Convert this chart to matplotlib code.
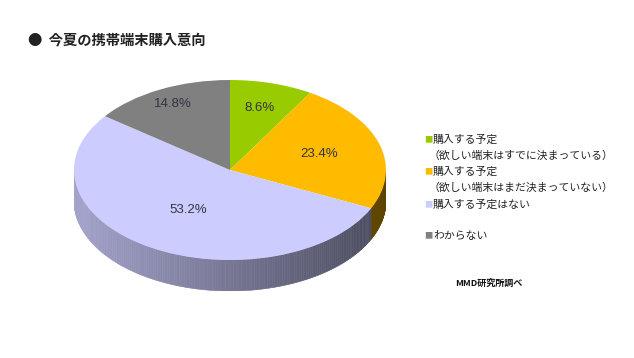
import numpy as np
import matplotlib
matplotlib.use("Agg")
import matplotlib.pyplot as plt
from matplotlib.collections import PolyCollection
from matplotlib.colors import to_rgb

# data
labels = [
    "購入する予定\n（欲しい端末はすでに決まっている）",
    "購入する予定\n（欲しい端末はまだ決まっていない）",
    "購入する予定はない",
    "わからない",
]
shares = [8.6, 23.4, 53.2, 14.8]
colors = ["#99cc00", "#ffbb00", "#ccccff", "#808080"]

title = "●  今夏の携帯端末購入意向"
source = "MMD研究所調べ"

# label distance from centre, per slice (Excel places them unevenly)
label_r = [0.72, 0.60, 0.52, 0.82]

JP = ["Noto Sans CJK JP", "DejaVu Sans"]

fig = plt.figure(figsize=(6.34, 3.58), dpi=100)
fig.patch.set_facecolor("white")

# pie geometry in pixels (top face ellipse + side depth)
W, H = 634, 358
cx, cy, rx, ry, depth = 230, 170, 156, 90, 31
depth_u = depth / ry
ax = fig.add_axes([(cx - rx) / W, (H - cy - ry - depth) / H,
                   2 * rx / W, (2 * ry + depth) / H])

wedges, texts, autotexts = ax.pie(
    shares, colors=colors, startangle=90, counterclock=False,
    autopct="%.1f%%", pctdistance=0.64,
    wedgeprops=dict(linewidth=0), textprops=dict(color="#333344", fontsize=9.5,
                                                 family="Liberation Sans"))
ax.set_aspect("auto")
ax.set_xlim(-1, 1)
ax.set_ylim(-1 - depth_u, 1)
for w, t, r in zip(wedges, autotexts, label_r):
    w.set_zorder(3)
    t.set_zorder(4)
    mid = np.radians((w.theta1 + w.theta2) / 2)
    t.set_position((r * np.cos(mid), r * np.sin(mid)))

# side of the cylinder, shaded left (light) to right (dark)
polys, fcs = [], []
for w, c in zip(wedges, colors):
    a = np.linspace(w.theta1, w.theta2, 200)
    rad = np.radians(a)
    base = np.array(to_rgb(c))
    for i in range(len(a) - 1):
        if np.sin(rad[i]) > 0.001 and np.sin(rad[i + 1]) > 0.001:
            continue
        x1, x2 = np.cos(rad[i]), np.cos(rad[i + 1])
        y1, y2 = np.sin(rad[i]), np.sin(rad[i + 1])
        polys.append([(x1, y1), (x2, y2), (x2, y2 - depth_u), (x1, y1 - depth_u)])
        xm = (x1 + x2) / 2
        f = 0.80 - 0.22 * (xm + 1)
        fcs.append(np.clip(base * f, 0, 1))
side = PolyCollection(polys, facecolors=fcs, edgecolors=fcs, linewidths=0.4, zorder=1)
ax.add_collection(side)

# title
fig.text(28 / W, 1 - 40 / H, title, family=JP, fontsize=10.3, fontweight="bold",
         color="#222222", va="center")

# legend (manual, to keep the Excel-like spacing)
ly = [140, 172, 205, 236]
for lab, c, y in zip(labels, colors, ly):
    fig.text(424 / W, 1 - y / H, "■", family=JP, fontsize=6, color=c, va="center")
    lines = lab.split("\n")
    fig.text(433 / W, 1 - y / H, lines[0], family=JP, fontsize=7.8,
             color="#222222", va="center")
    if len(lines) > 1:
        fig.text(429 / W, 1 - (y + 16) / H, lines[1], family=JP, fontsize=7.8,
                 color="#222222", va="center")

fig.text(455 / W, 1 - 283 / H, source, family=JP, fontsize=6.5,
         fontweight="bold", color="#111111", va="center")

fig.savefig("out.png", dpi=100)
